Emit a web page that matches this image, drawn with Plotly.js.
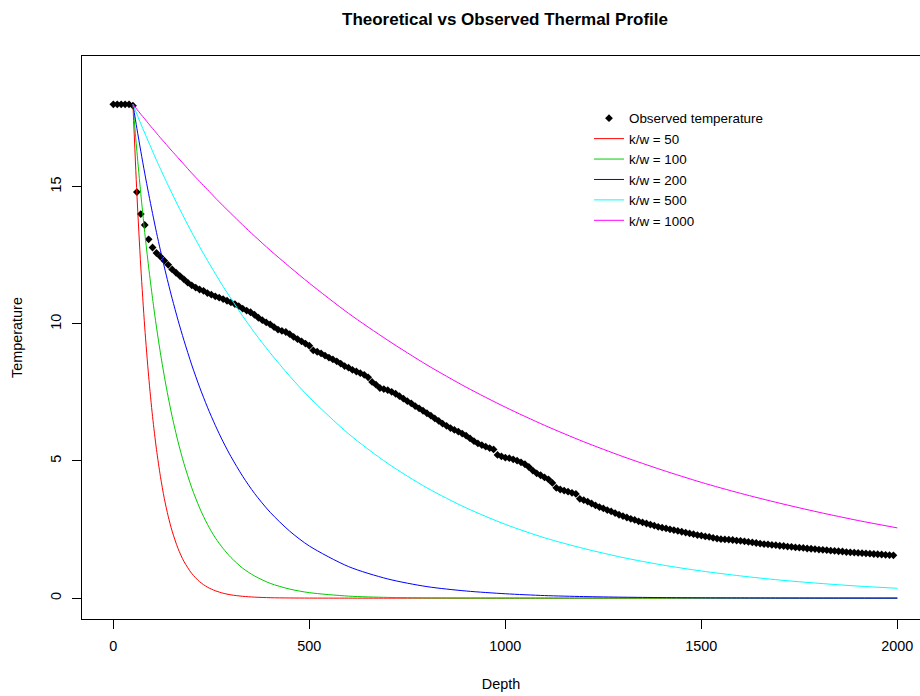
<!DOCTYPE html>
<html>
<head>
<meta charset="utf-8">
<script src="https://cdn.plot.ly/plotly-3.0.1.min.js"></script>
<style>html,body{margin:0;padding:0;overflow:hidden;background:#fff}#chart{width:920px;height:696px}</style>
</head>
<body>
<div id="chart"></div>
<script>
// Observed temperature profile (depth every 10 units)
const obsDepth = [0,10,20,30,40,50,60,70,80,90,100,110,120,130,140,150,160,170,180,190,
200,210,220,230,240,250,260,270,280,290,300,310,320,330,340,350,360,370,380,390,
400,410,420,430,440,450,460,470,480,490,500,510,520,530,540,550,560,570,580,590,
600,610,620,630,640,650,660,670,680,690,700,710,720,730,740,750,760,770,780,790,
800,810,820,830,840,850,860,870,880,890,900,910,920,930,940,950,960,970,980,990,
1000,1010,1020,1030,1040,1050,1060,1070,1080,1090,1100,1110,1120,1130,1140,1150,1160,1170,1180,1190,
1200,1210,1220,1230,1240,1250,1260,1270,1280,1290,1300,1310,1320,1330,1340,1350,1360,1370,1380,1390,
1400,1410,1420,1430,1440,1450,1460,1470,1480,1490,1500,1510,1520,1530,1540,1550,1560,1570,1580,1590,
1600,1610,1620,1630,1640,1650,1660,1670,1680,1690,1700,1710,1720,1730,1740,1750,1760,1770,1780,1790,
1800,1810,1820,1830,1840,1850,1860,1870,1880,1890,1900,1910,1920,1930,1940,1950,1960,1970,1980,1990];
const obsTemp = [18,18,18,18,18,17.95,14.8,14.0,13.6,13.08,12.78,12.58,12.45,12.3,12.15,11.98,11.86,11.74,11.62,11.5,
11.4,11.32,11.25,11.2,11.12,11.06,11.0,10.95,10.9,10.84,10.78,10.72,10.64,10.55,10.48,10.42,10.33,10.22,10.13,10.05,
9.98,9.88,9.79,9.74,9.7,9.62,9.52,9.44,9.36,9.28,9.2,9.03,8.98,8.92,8.84,8.77,8.7,8.63,8.55,8.46,
8.4,8.32,8.26,8.2,8.14,8.05,7.88,7.78,7.66,7.62,7.58,7.52,7.45,7.36,7.27,7.18,7.1,7.0,6.92,6.83,
6.74,6.65,6.55,6.46,6.36,6.28,6.2,6.13,6.07,6.0,5.92,5.82,5.72,5.64,5.58,5.52,5.47,5.42,5.22,5.17,
5.12,5.1,5.06,5.01,4.95,4.88,4.78,4.65,4.55,4.48,4.4,4.33,4.2,4.02,3.96,3.92,3.88,3.84,3.8,3.62,
3.57,3.52,3.45,3.38,3.32,3.27,3.21,3.16,3.1,3.04,2.99,2.94,2.89,2.85,2.8,2.76,2.72,2.68,2.64,2.6,
2.57,2.54,2.51,2.48,2.45,2.42,2.39,2.36,2.33,2.3,2.28,2.25,2.23,2.2,2.17,2.15,2.14,2.13,2.12,2.1,
2.09,2.07,2.05,2.03,2.01,1.99,1.97,1.96,1.94,1.93,1.91,1.9,1.88,1.87,1.85,1.84,1.83,1.81,1.8,1.79,
1.77,1.76,1.75,1.73,1.72,1.71,1.7,1.68,1.67,1.66,1.65,1.64,1.63,1.62,1.61,1.6,1.59,1.58,1.57,1.56];

// Theoretical profiles, read at these depths
const modelDepth = [50,60,70,80,90,100,110,120,130,140,150,165,180,200,220,240,260,280,300,330,360,400,450,500,
600,700,800,900,1000,1100,1200,1300,1400,1500,1600,1700,1800,1900,2000];
const kw50 = [18,14.74,12.07,9.88,8.09,6.62,5.42,4.44,3.63,2.98,2.44,1.81,1.34,0.9,0.6,0.4,0.27,0.18,0.12,0.067,0.037,0.016,0.006,0.0022,
0.0003,0,0,0,0,0,0,0,0,0,0,0,0,0,0];
const kw100 = [18,16.29,14.74,13.33,12.07,10.92,9.88,8.94,8.09,7.32,6.62,5.7,4.91,4.02,3.29,2.69,2.2,1.81,1.48,1.09,0.81,0.54,0.33,0.2,
0.074,0.027,0.01,0.0037,0.0014,0.0005,0.0002,0.0001,0,0,0,0,0,0,0];
const kw200 = [18,17.12,16.29,15.49,14.74,14.02,13.33,12.68,12.07,11.48,10.92,10.13,9.4,8.5,7.69,6.96,6.3,5.7,5.16,4.44,3.82,3.13,2.44,1.9,
1.15,0.7,0.42,0.26,0.16,0.094,0.057,0.035,0.021,0.013,0.008,0.0047,0.0029,0.0017,0.001];
const kw500 = [18,17.64,17.29,16.95,16.62,16.29,15.96,15.65,15.34,15.04,14.74,14.3,13.88,13.33,12.81,12.31,11.83,11.36,10.92,10.28,9.68,8.94,8.09,7.32,
5.99,4.91,4.02,3.29,2.69,2.2,1.81,1.48,1.21,0.99,0.81,0.66,0.54,0.44,0.36];
const kw1000 = [18,17.82,17.64,17.47,17.29,17.12,16.95,16.78,16.62,16.45,16.29,16.05,15.81,15.49,15.19,14.89,14.59,14.3,14.02,13.6,13.2,12.68,12.07,11.48,
10.38,9.4,8.5,7.69,6.96,6.3,5.7,5.16,4.67,4.22,3.82,3.46,3.13,2.83,2.56];

const modelNames = ["k/w = 50","k/w = 100","k/w = 200","k/w = 500","k/w = 1000"];
const modelValues = [kw50, kw100, kw200, kw500, kw1000];
const modelColors = ["#FF0000","#00CD00","#0000FF","#00FFFF","#FF00FF"];
const xTicks = [0,500,1000,1500,2000];
const yTicks = [0,5,10,15];

const FONT = "Liberation Sans, Arial, Helvetica, sans-serif";
const traces = [{
  x: obsDepth, y: obsTemp, type: "scatter", mode: "markers", name: "Observed temperature",
  marker: {symbol: "diamond", size: 6, color: "#000000"}
}];
modelValues.forEach((v, i) => {
  traces.push({x: modelDepth, y: v, type: "scatter", mode: "lines", name: modelNames[i],
    line: {color: modelColors[i], width: 1, shape: "spline", smoothing: 0.8}});
});

const layout = {
  width: 920, height: 696,
  margin: {l: 82, r: 0, t: 56, b: 77, pad: 0},
  paper_bgcolor: "#ffffff", plot_bgcolor: "#ffffff",
  font: {family: FONT, size: 14.4, color: "#000000"},
  title: {text: "<b>Theoretical vs Observed Thermal Profile</b>", font: {family: FONT, size: 17, color: "#000"},
    x: 505/920, xref: "container", xanchor: "center", y: 1 - 19/696, yref: "container", yanchor: "middle"},
  showlegend: true,
  legend: {x: (589-82)/838, xanchor: "left", y: 1 - (103-56)/563, yanchor: "top", bgcolor: "rgba(0,0,0,0)",
    borderwidth: 0, font: {family: FONT, size: 13.4}, itemwidth: 30, tracegroupgap: 0},
  xaxis: {range: [-80, 2057.8], tickvals: xTicks, ticktext: xTicks.map(String), ticks: "outside", ticklen: 9,
    tickcolor: "#000", showline: true, linecolor: "#000", linewidth: 1, mirror: true, showgrid: false, zeroline: false,
    ticklabelstandoff: 5,
    title: {text: "Depth", font: {family: FONT, size: 14.4}, standoff: 25}},
  yaxis: {range: [-0.76, 19.76], tickvals: yTicks, ticktext: yTicks.map(String), ticks: "outside", ticklen: 9,
    tickangle: -90, tickcolor: "#000", showline: true, linecolor: "#000", linewidth: 1, mirror: false,
    showgrid: false, zeroline: false, ticklabelstandoff: 5,
    title: {text: "Temperature", font: {family: FONT, size: 14.4}, standoff: 22}}
};
Plotly.newPlot("chart", traces, layout, {staticPlot: true, displayModeBar: false});
</script>
</body>
</html>
